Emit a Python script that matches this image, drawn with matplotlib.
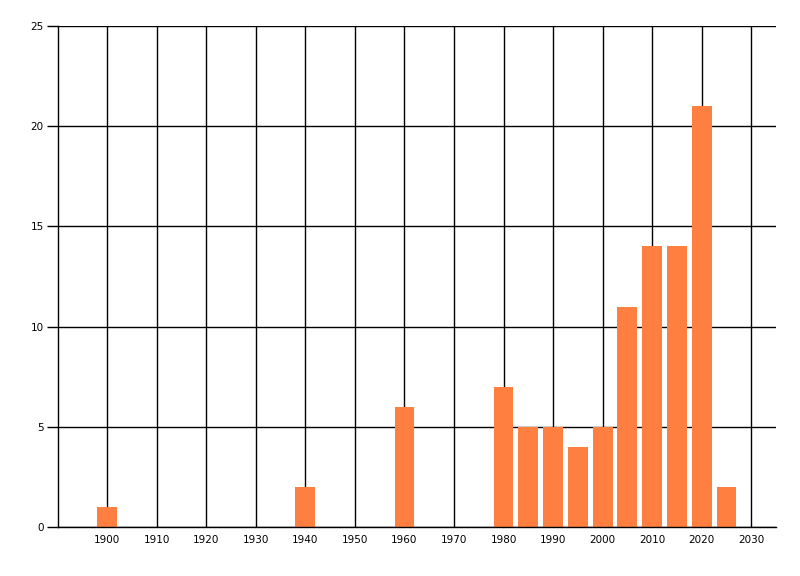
import matplotlib
matplotlib.use("Agg")
import matplotlib.pyplot as plt

years = [1900, 1940, 1960, 1980, 1985, 1990, 1995, 2000, 2005, 2010, 2015, 2020, 2025]
counts = [1, 2, 6, 7, 5, 5, 4, 5, 11, 14, 14, 21, 2]
xticks = list(range(1900, 2031, 10))
yticks = [0, 5, 10, 15, 20, 25]

fig = plt.figure(figsize=(8, 5.76), dpi=100)
ax = fig.add_axes([0.072, 0.085, 0.898, 0.87])

ax.bar(years, counts, width=4, color="#FF7F40", zorder=3)

ax.set_xlim(1890, 2035)
ax.set_ylim(0, 25)
ax.set_xticks(xticks)
ax.set_yticks(yticks)
ax.grid(True, color="black", linewidth=1, zorder=0)

for s in ["top", "right"]:
    ax.spines[s].set_visible(False)
for s in ["left", "bottom"]:
    ax.spines[s].set_linewidth(1)
    ax.spines[s].set_zorder(4)

ax.tick_params(axis="x", length=0, pad=6, labelsize=7.5)
ax.tick_params(axis="y", length=8, width=1, pad=2, labelsize=7.5)

fig.savefig("out.png", dpi=100)
